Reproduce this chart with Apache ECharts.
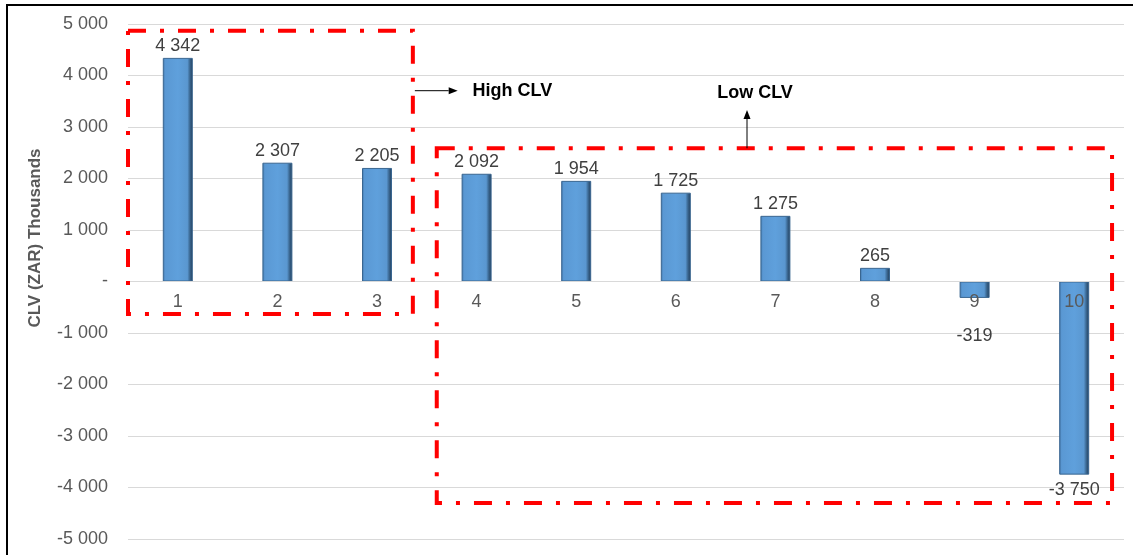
<!DOCTYPE html>
<html>
<head>
<meta charset="utf-8">
<script src="https://cdn.jsdelivr.net/npm/echarts@6/dist/echarts.min.js"></script>
<style>
  html, body { margin: 0; padding: 0; background: #ffffff; }
  #chart { width: 1133px; height: 555px; }
</style>
</head>
<body>
<div id="chart"></div>
<script>
// Customer lifetime value per segment (ZAR thousands)
const categories = ['1', '2', '3', '4', '5', '6', '7', '8', '9', '10'];
const clvValues = [4342, 2307, 2205, 2092, 1954, 1725, 1275, 265, -319, -3750];
const yMin = -5000;
const yMax = 5000;
const yStep = 1000;

// Annotation regions, in category-index / value units
const highBox = { x0: -0.5, x1: 2.36, y0: 4870, y1: -630 };
const lowBox = { x0: 2.6, x1: 9.38, y0: 2586, y1: -4300 };
const highLabel = { text: 'High CLV', arrowFrom: [2.38, 3705], arrowTo: [2.81, 3705], at: [2.96, 3690] };
const lowLabel = { text: 'Low CLV', arrowFrom: [5.715, 2586], arrowTo: [5.715, 3330], at: [5.795, 3650] };

const FONT = '"Liberation Sans", Arial, sans-serif';

function fmt(v) {
  if (v === 0) return '-';
  const s = Math.abs(v).toString().replace(/\B(?=(\d{3})+(?!\d))/g, ' ');
  return (v < 0 ? '-' : '') + s;
}

const barFill = new echarts.graphic.LinearGradient(0, 0, 1, 0, [
  { offset: 0, color: '#3f73a6' },
  { offset: 0.08, color: '#5a98d3' },
  { offset: 0.5, color: '#5fa0dc' },
  { offset: 0.82, color: '#5a97d0' },
  { offset: 0.9, color: '#3b6892' },
  { offset: 1, color: '#1f3a55' }
]);

const barData = clvValues.map(function (v, i) {
  const item = { value: v };
  if (v < 0) {
    item.label = { position: 'bottom', distance: i === 8 ? 29 : 6 };
  }
  return item;
});

const chart = echarts.init(document.getElementById('chart'), null, { renderer: 'canvas' });

chart.setOption({
  animation: false,
  backgroundColor: '#ffffff',
  grid: { left: 128, right: 9, top: 24, bottom: 16, containLabel: false, outerBoundsMode: 'none' },
  xAxis: {
    type: 'category',
    data: categories,
    position: 'bottom',
    offset: 0,
    z: 5,
    axisLine: { onZero: false, lineStyle: { color: '#d9d9d9', width: 1 } },
    axisTick: { show: false },
    axisLabel: { color: '#595959', fontSize: 18, fontFamily: FONT, margin: 12 },
    splitLine: { show: false }
  },
  yAxis: {
    type: 'value',
    min: yMin,
    max: yMax,
    interval: yStep,
    axisLine: { show: false },
    axisTick: { show: false },
    axisLabel: { color: '#595959', fontSize: 18, fontFamily: FONT, margin: 20, formatter: fmt },
    splitLine: { lineStyle: { color: '#d9d9d9', width: 1 } }
  },
  series: [{
    type: 'bar',
    data: barData,
    barWidth: 30,
    itemStyle: { color: barFill, borderColor: '#3a6690', borderWidth: 1 },
    label: {
      show: true,
      position: 'top',
      distance: 3,
      color: '#404040',
      fontSize: 18,
      fontFamily: FONT,
      formatter: function (p) { return fmt(p.value); }
    }
  }]
});

// Move the category axis (line and labels) up to the zero line
const gridBottomPx = chart.convertToPixel({ yAxisIndex: 0 }, yMin);
const zeroPx = chart.convertToPixel({ yAxisIndex: 0 }, 0);
chart.setOption({ xAxis: { offset: -(gridBottomPx - zeroPx) } });

// Annotation overlay: dashed boxes, arrows and captions placed through the axes
function px(xi) {
  const a = chart.convertToPixel({ xAxisIndex: 0 }, 0);
  const b = chart.convertToPixel({ xAxisIndex: 0 }, 1);
  return a + (b - a) * xi;
}
function py(v) {
  return chart.convertToPixel({ yAxisIndex: 0 }, v);
}
const dashStyle = { fill: 'none', stroke: '#ff0000', lineWidth: 4, lineDash: [18, 14, 4, 14] };

function boxShape(b) {
  const x0 = px(b.x0), x1 = px(b.x1), y0 = py(b.y0), y1 = py(b.y1);
  return {
    type: 'rect', z: 10, silent: true,
    shape: { x: x0, y: y0, width: x1 - x0, height: y1 - y0 },
    style: dashStyle
  };
}
function arrow(from, to) {
  const x0 = px(from[0]), y0 = py(from[1]), x1 = px(to[0]), y1 = py(to[1]);
  const ang = Math.atan2(y1 - y0, x1 - x0);
  const len = 9, half = 3.5;
  const bx = x1 - len * Math.cos(ang), by = y1 - len * Math.sin(ang);
  const nx = -Math.sin(ang) * half, ny = Math.cos(ang) * half;
  return [
    { type: 'line', z: 11, silent: true, shape: { x1: x0, y1: y0, x2: bx, y2: by }, style: { stroke: '#000000', lineWidth: 1 } },
    { type: 'polygon', z: 11, silent: true, shape: { points: [[x1, y1], [bx + nx, by + ny], [bx - nx, by - ny]] }, style: { fill: '#000000' } }
  ];
}
function caption(c, align) {
  return {
    type: 'text', z: 11, silent: true,
    style: {
      text: c.text, x: px(c.at[0]), y: py(c.at[1]),
      fill: '#000000', font: 'bold 18px ' + FONT,
      textAlign: align, textVerticalAlign: 'middle'
    }
  };
}

const elements = [
  boxShape(highBox),
  boxShape(lowBox),
  caption(highLabel, 'left'),
  caption(lowLabel, 'center'),
  {
    type: 'text', z: 11, silent: true,
    x: 35, y: 238, rotation: Math.PI / 2,
    style: {
      text: 'CLV (ZAR) Thousands', x: 0, y: 0,
      fill: '#595959', font: 'bold 17px ' + FONT,
      textAlign: 'center', textVerticalAlign: 'middle'
    }
  },
  {
    type: 'polyline', z: 12, silent: true,
    shape: { points: [[7, 560], [7, 5], [1140, 5]] },
    style: { stroke: '#000000', lineWidth: 2, fill: 'none' }
  }
].concat(arrow(highLabel.arrowFrom, highLabel.arrowTo), arrow(lowLabel.arrowFrom, lowLabel.arrowTo));

chart.setOption({ graphic: { elements: elements } });
</script>
</body>
</html>
